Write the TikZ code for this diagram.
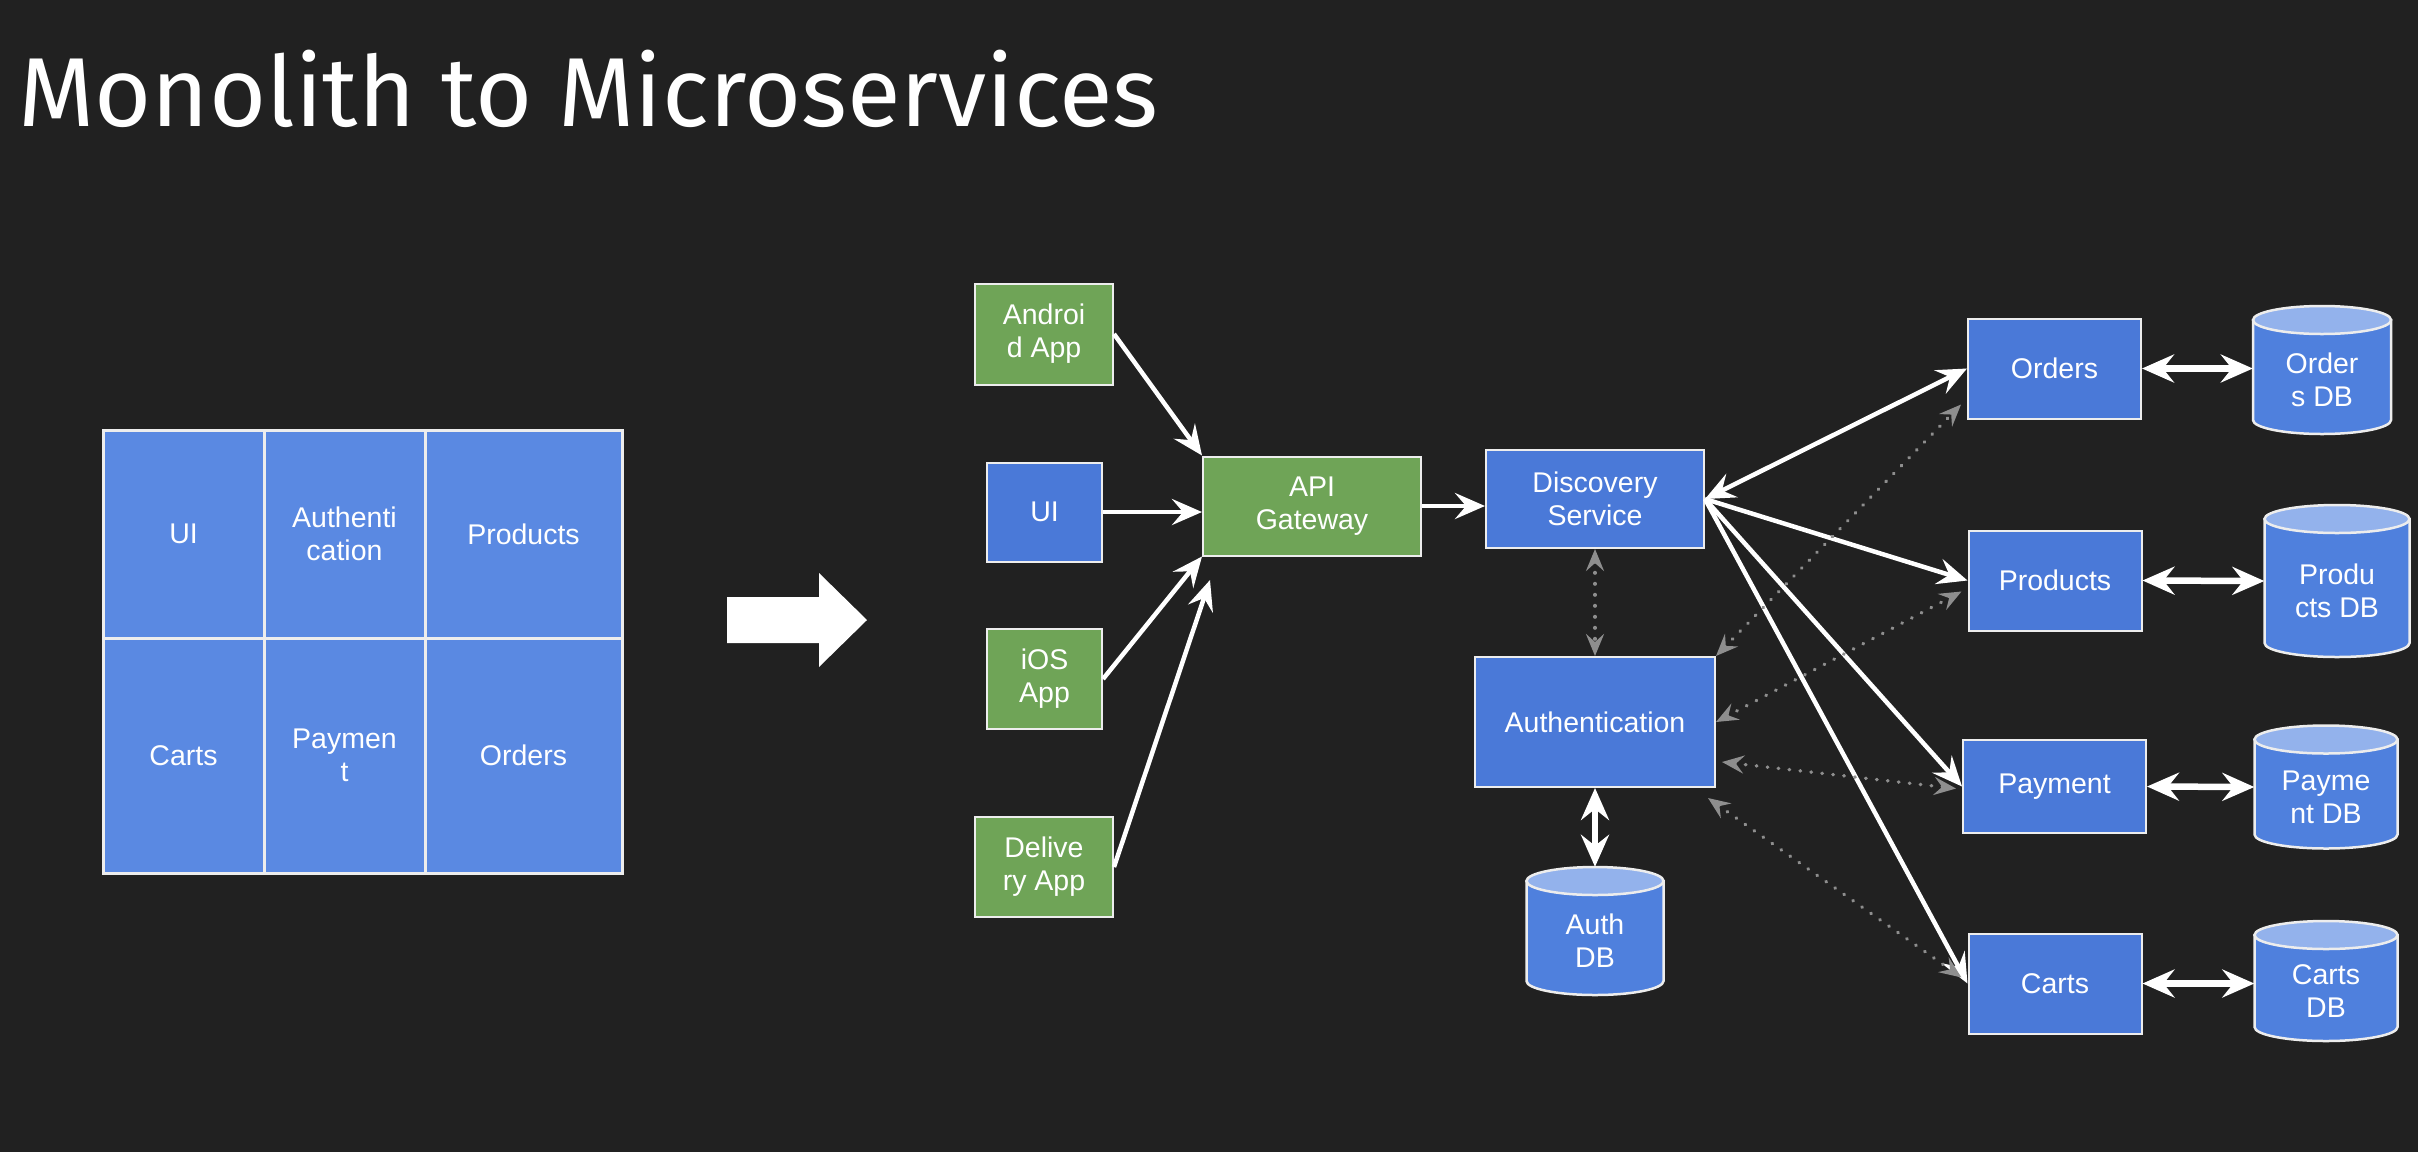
\documentclass[tikz,border=0pt]{standalone}
\usepackage{fontspec}
\setmainfont{Liberation Sans}
\newfontfamily\titlefont{Fira Sans}
\usetikzlibrary{arrows.meta,calc}

\definecolor{bgc}{HTML}{212121}
\definecolor{monoblue}{HTML}{5A89E2}
\definecolor{svcblue}{HTML}{4A79D8}
\definecolor{appgreen}{HTML}{6FA457}
\definecolor{dbtop}{HTML}{93B2EC}
\definecolor{dbbody}{HTML}{4F80DD}
\definecolor{linkgray}{HTML}{8E8E8E}
\definecolor{edge}{HTML}{EDEDED}

\tikzset{
  lbl/.style={text=white, font=\fontsize{28.5}{33}\selectfont, align=center},
  cell/.style={lbl, rectangle, draw=edge, line width=3pt, fill=monoblue, inner sep=0pt},
  svc/.style={lbl, rectangle, draw=edge, line width=2pt, fill=svcblue, inner sep=0pt},
  app/.style={svc, fill=appgreen},
  dbnode/.style={rectangle, inner sep=0pt},
  cylbody/.style={draw=edge, line width=2.5pt, fill=dbbody},
  cyltop/.style={draw=edge, line width=2.5pt, fill=dbtop},
  whitehead/.style={Stealth[length=30pt,width=26pt,inset=11pt]},
  flow/.style={draw=white, line width=4.5pt, -{Stealth[length=30pt,width=26pt,inset=11pt]}},
  twoway/.style={draw=white, line width=4.5pt,
    {Stealth[length=30pt,width=26pt,inset=11pt]}-{Stealth[length=30pt,width=26pt,inset=11pt]}},
  dblink/.style={draw=white, line width=6.5pt,
    {Stealth[length=32pt,width=28pt,inset=11pt]}-{Stealth[length=32pt,width=28pt,inset=11pt]}},
  peer/.style={draw=linkgray, line width=3.5pt, line cap=round, dash pattern=on 0.5pt off 10.5pt,
    {Stealth[length=22pt,width=18pt,inset=8pt]}-{Stealth[length=22pt,width=18pt,inset=8pt]}},
}

% database cylinder: name, centre x, centre y, width, height, label
\newcommand\dbcyl[6]{%
  \pgfmathsetmacro\cylL{#2-#4/2}%
  \pgfmathsetmacro\cylR{#2+#4/2}%
  \pgfmathsetmacro\cylT{#3-#5/2+14}%
  \pgfmathsetmacro\cylB{#3+#5/2-14}%
  \pgfmathsetmacro\cylRx{#4/2}%
  \filldraw[cylbody] (\cylL,\cylT) -- (\cylL,\cylB)
    arc[start angle=180, end angle=360, x radius=\cylRx pt, y radius=14pt]
    -- (\cylR,\cylT) -- cycle;
  \filldraw[cyltop] (#2,\cylT) ellipse[x radius=\cylRx pt, y radius=14pt];
  \node[dbnode, minimum width=#4pt, minimum height=#5pt,
        label={[lbl, yshift=-10pt]center:{#6}}] (#1) at (#2,#3) {};
}

\begin{document}
\begin{tikzpicture}[x=1pt, y=-1pt]
  \fill[bgc] (0,0) rectangle (2418,1152);
  \useasboundingbox (0,0) rectangle (2418,1152);

  % heading
  \node[anchor=base west, inner sep=0pt, text=white,
        font=\titlefont\fontsize{98}{104}\selectfont] (title) at (18,126)
        {Monolith to Microservices};

  % the monolith
  \node[cell, minimum width=161pt, minimum height=208pt] (mUI)   at (183.5,534) {UI};
  \node[cell, minimum width=161pt, minimum height=208pt] (mAuth) at (344.5,534) {Authenti\\cation};
  \node[cell, minimum width=197pt, minimum height=208pt] (mProd) at (523.5,534) {Products};
  \node[cell, minimum width=161pt, minimum height=235pt] (mCart) at (183.5,755.5) {Carts};
  \node[cell, minimum width=161pt, minimum height=235pt] (mPay)  at (344.5,755.5) {Paymen\\t};
  \node[cell, minimum width=197pt, minimum height=235pt] (mOrd)  at (523.5,755.5) {Orders};

  % transition arrow
  \fill[white] (727,597) -- (819,597) -- (819,573) -- (867,620) -- (819,667)
    -- (819,643) -- (727,643) -- cycle;

  % clients
  \node[app, minimum width=138pt, minimum height=101pt] (android)  at (1044,334) {Androi\\d App};
  \node[svc, minimum width=115pt, minimum height=99pt]  (ui)       at (1044.5,512) {UI};
  \node[app, minimum width=115pt, minimum height=100pt] (ios)      at (1044.5,679) {iOS\\App};
  \node[app, minimum width=138pt, minimum height=100pt] (delivery) at (1044,867) {Delive\\ry App};

  % gateway and services
  \node[app, minimum width=218pt, minimum height=99pt]  (api)       at (1312,506) {API\\Gateway};
  \node[svc, minimum width=218pt, minimum height=98pt]  (discovery) at (1595,499) {Discovery\\Service};
  \node[svc, minimum width=240pt, minimum height=130pt] (auth)      at (1595,722) {Authentication};
  \node[svc, minimum width=173pt, minimum height=100pt] (orders)    at (2054.5,368.5) {Orders};
  \node[svc, minimum width=173pt, minimum height=100pt] (products)  at (2055,580.5) {Products};
  \node[svc, minimum width=183pt, minimum height=93pt]  (payment)   at (2054.5,786.5) {Payment};
  \node[svc, minimum width=173pt, minimum height=100pt] (carts)     at (2055,983.5) {Carts};

  % databases
  \dbcyl{authdb}{1595}{931}{137}{128}{Auth\\DB}
  \dbcyl{ordersdb}{2322}{370}{138}{128}{Order\\s DB}
  \dbcyl{productsdb}{2337}{581}{145}{152}{Produ\\cts DB}
  \dbcyl{paymentdb}{2326}{787}{143}{123}{Payme\\nt DB}
  \dbcyl{cartsdb}{2326}{981}{143}{120}{Carts\\DB}

  \coordinate (dlvend) at (1210,580);

  % clients to gateway
  \draw[flow] (android.east) -- (api.north west);
  \draw[flow] (ui.east) -- (ui.east -| api.west);
  \draw[flow] (ios.east) -- (api.south west);
  \draw[flow] (delivery.east) -- (dlvend);
  \draw[flow] (api.east) -- (api.east -| discovery.west);

  % discovery to services
  \draw[twoway] (discovery.east) -- (orders.west);
  \draw[flow] (discovery.east) -- (products.west);
  \draw[flow] (discovery.east) -- (payment.west);
  \draw[flow] (discovery.east) -- (carts.west);

  % authentication checks
  \draw[peer] (discovery.south) -- (auth.north);
  \draw[peer] (auth.north east) -- ($(orders.west)+(-6,36)$);
  \draw[peer] (auth.east) -- ($(products.west)+(-6,11)$);
  \draw[peer] ($(auth.east)+(6,40)$) -- ($(payment.west)+(-6,2)$);
  \draw[peer] ($(auth.south east)+(-8,10)$) -- ($(carts.west)+(-6,-6)$);

  % services to their stores
  \draw[dblink] (auth.south) -- (authdb.north);
  \draw[dblink] (orders.east) -- (orders.east -| ordersdb.west);
  \draw[dblink] (products.east) -- (productsdb.west);
  \draw[dblink] (payment.east) -- (paymentdb.west);
  \draw[dblink] (carts.east) -- (carts.east -| cartsdb.west);
\end{tikzpicture}
\end{document}
